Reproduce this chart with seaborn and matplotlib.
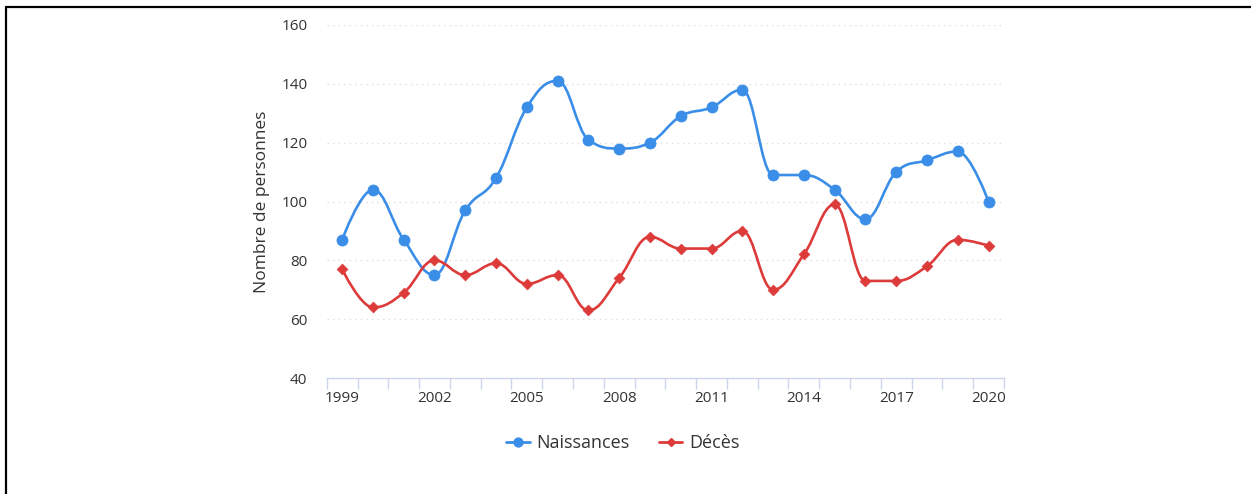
import numpy as np
import pandas as pd
import seaborn as sns
import matplotlib.pyplot as plt
from matplotlib.path import Path
from matplotlib.patches import PathPatch
from matplotlib.lines import Line2D

# Data
years = list(range(1999, 2021))
naissances = [87, 104, 87, 75, 97, 108, 132, 141, 121, 118, 120,
              129, 132, 138, 109, 109, 104, 94, 110, 114, 117, 100]
deces = [77, 64, 69, 80, 75, 79, 72, 75, 63, 74, 88,
         84, 84, 90, 70, 82, 99, 73, 73, 78, 87, 85]
year_labels = ['1999', '2002', '2005', '2008', '2011', '2014', '2017', '2020']
y_ticks = [40, 60, 80, 100, 120, 140, 160]

BLUE = '#3b8ee8'
RED = '#dd3a3a'
TEXT = '#333333'
AXIS = '#ccd6eb'

sns.set_style('white')
plt.rcParams['font.family'] = ['Open Sans', 'DejaVu Sans']


def spline_path(xs, ys, smoothing=1.5):
    # Highcharts-style spline: bezier control points around each point
    n = len(xs)
    left = [None] * n
    right = [None] * n
    denom = smoothing + 1
    for i in range(1, n - 1):
        x, y = xs[i], ys[i]
        lx, ly = xs[i - 1], ys[i - 1]
        nx, ny = xs[i + 1], ys[i + 1]
        lcx = (smoothing * x + lx) / denom
        lcy = (smoothing * y + ly) / denom
        rcx = (smoothing * x + nx) / denom
        rcy = (smoothing * y + ny) / denom
        corr = 0
        if rcx != lcx:
            corr = (rcy - lcy) * (rcx - x) / (rcx - lcx) + y - rcy
        lcy += corr
        rcy += corr
        if lcy > ly and lcy > y:
            lcy = max(ly, y)
            rcy = 2 * y - lcy
        elif lcy < ly and lcy < y:
            lcy = min(ly, y)
            rcy = 2 * y - lcy
        if rcy > ny and rcy > y:
            rcy = max(ny, y)
            lcy = 2 * y - rcy
        elif rcy < ny and rcy < y:
            rcy = min(ny, y)
            lcy = 2 * y - rcy
        left[i] = (lcx, lcy)
        right[i] = (rcx, rcy)
    verts = [(xs[0], ys[0])]
    codes = [Path.MOVETO]
    for i in range(1, n):
        c1 = right[i - 1] if right[i - 1] is not None else (xs[i - 1], ys[i - 1])
        c2 = left[i] if left[i] is not None else (xs[i], ys[i])
        verts += [c1, c2, (xs[i], ys[i])]
        codes += [Path.CURVE4] * 3
    return Path(verts, codes)


df = pd.DataFrame({'pos': np.arange(len(years)), 'annee': years,
                   'Naissances': naissances, 'Décès': deces})

fig = plt.figure(figsize=(12.51, 4.94), dpi=100)
ax = fig.add_axes([0.2612, 0.2348, 0.5413, 0.7146])

series = [('Naissances', BLUE, 'o', 8), ('Décès', RED, 'D', 5.5)]
for name, color, marker, ms in series:
    path = spline_path(df['pos'].tolist(), df[name].tolist())
    ax.add_patch(PathPatch(path, facecolor='none', edgecolor=color,
                           lw=1.9, capstyle='round', joinstyle='round', zorder=3))
    sns.scatterplot(data=df, x='pos', y=name, ax=ax, color=color, marker=marker,
                    s=ms ** 2, edgecolor=color, linewidth=0.5, zorder=4, legend=False)

ax.set_xlim(-0.5, len(years) - 0.5)
ax.set_ylim(40, 160)
ax.set_yticks(y_ticks)
ax.set_yticklabels([str(v) for v in y_ticks])

# category labels every 3 years, tick marks between categories
label_pos = [years.index(int(l)) for l in year_labels]
ax.set_xticks(label_pos)
ax.set_xticklabels(year_labels)
ax.set_xticks(np.arange(-0.5, len(years)), minor=True)
ax.tick_params(axis='x', which='major', bottom=True, length=0, pad=9,
               labelsize=11, labelcolor=TEXT)
ax.tick_params(axis='x', which='minor', bottom=True, length=8, width=1,
               color=AXIS, direction='out')
ax.tick_params(axis='y', length=0, pad=14, labelsize=11, labelcolor=TEXT)

for y in y_ticks[1:]:
    ax.axhline(y, color='#dddddd', lw=1, ls=(0, (1, 3)), zorder=1)

for side in ['top', 'right', 'left']:
    ax.spines[side].set_visible(False)
ax.spines['bottom'].set_color(AXIS)
ax.spines['bottom'].set_linewidth(1)

ax.set_xlabel('')
ax.set_ylabel('Nombre de personnes', fontsize=12.5, color=TEXT, labelpad=8)

handles = [Line2D([0], [0], color=c, lw=2, marker=m, markersize=ms * 0.8, label=n)
           for n, c, m, ms in series]
fig.legend(handles=handles, loc='center', bbox_to_anchor=(0.498, 0.103), ncol=2,
           frameon=False, fontsize=13, labelcolor=TEXT, handlelength=1.3,
           handletextpad=0.4, columnspacing=1.6)

# frame lines on the left and top of the image
fig.add_artist(Line2D([6 / 1251, 1], [1 - 7 / 494, 1 - 7 / 494], color='black', lw=1.6,
                      transform=fig.transFigure))
fig.add_artist(Line2D([6 / 1251, 6 / 1251], [0, 1 - 7 / 494], color='black', lw=1.6,
                      transform=fig.transFigure))

fig.savefig('out.png', dpi=100)
